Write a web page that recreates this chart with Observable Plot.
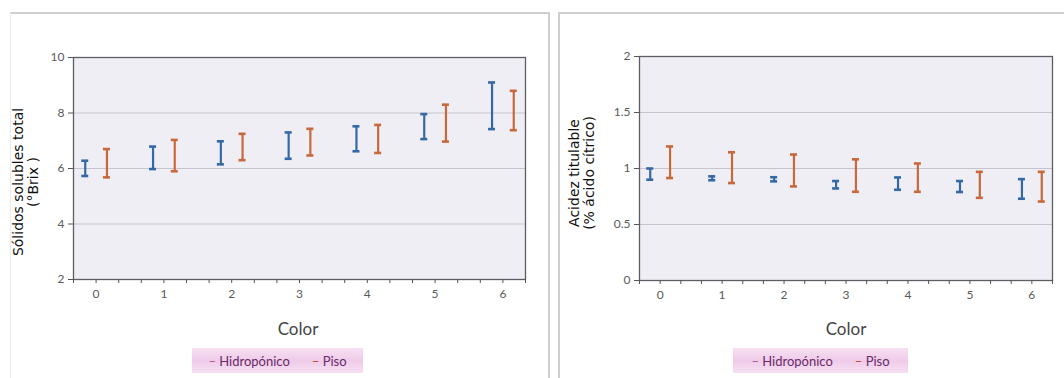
<!DOCTYPE html>
<html>
<head>
<meta charset="utf-8">
<script src="https://cdn.jsdelivr.net/npm/d3@7"></script>
<script src="https://cdn.jsdelivr.net/npm/@observablehq/plot@0.6"></script>
<style>
  html, body { margin: 0; padding: 0; background: #fff; }
  #page { position: relative; width: 1064px; height: 378px; overflow: hidden; background: #fff; }
  .panel { position: absolute; box-sizing: border-box; }
  .chart { position: absolute; top: 0; }
  .ytitle {
    position: absolute; transform: translate(-50%, -50%) rotate(-90deg);
    font-family: "DejaVu Sans", sans-serif; font-size: 14px; line-height: 15px;
    color: #111; text-align: center; white-space: nowrap;
  }
  .xtitle {
    position: absolute; transform: translate(-50%, -50%);
    font-family: Lato, sans-serif; font-size: 17px; color: #444; white-space: nowrap;
  }
  .legend {
    position: absolute; height: 25px; box-sizing: border-box;
    background: linear-gradient(#f6e0f2, #efcbe9 50%, #f6e0f2);
    display: flex; align-items: center; justify-content: center; gap: 22px;
    font-family: Lato, sans-serif; font-size: 13px; color: #6a2a68; white-space: nowrap;
  }
  .legend .d1 { color: #b5539f; }
  .legend .d2 { color: #c8452e; }
</style>
</head>
<body>
<div id="page">
  <div class="panel" style="left:10px; top:12px; width:540px; height:380px; border-top:2px solid #d0d0d0; border-right:2px solid #cfcfcf; border-left:1px solid #ececec;"></div>
  <div class="panel" style="left:558px; top:12px; width:520px; height:380px; border-top:2px solid #d0d0d0; border-left:2px solid #cfcfcf;"></div>

  <div id="left" class="chart" style="left:0px;"></div>
  <div id="right" class="chart" style="left:548px;"></div>

  <div class="ytitle" style="left:26px; top:182px;">Sólidos solubles total<br>(°Brix )</div>
  <div class="ytitle" style="left:582px; top:173px;">Acidez titulable<br>(% ácido cítrico)</div>

  <div class="xtitle" style="left:298px; top:328px;">Color</div>
  <div class="xtitle" style="left:846px; top:328px;">Color</div>

  <div class="legend" style="left:192px; top:348px; width:171px;"><span><span class="d1">–</span> Hidropónico</span><span><span class="d2">–</span> Piso</span></div>
  <div class="legend" style="left:733px; top:348px; width:175px;"><span><span class="d1">–</span> Hidropónico</span><span><span class="d2">–</span> Piso</span></div>
</div>

<script>
// Color index of the fruit (0–6) on the x axis
const colorCodes = [0, 1, 2, 3, 4, 5, 6];
const seriesNames = ["Hidropónico", "Piso"];
const seriesColors = ["#3468a6", "#c8683b"];

// Total soluble solids (°Brix): low and high ends of each range
const brixHidroLow  = [5.73, 5.98, 6.15, 6.35, 6.62, 7.06, 7.42];
const brixHidroHigh = [6.28, 6.79, 6.98, 7.30, 7.52, 7.96, 9.10];
const brixPisoLow   = [5.68, 5.90, 6.30, 6.47, 6.56, 6.97, 7.38];
const brixPisoHigh  = [6.70, 7.03, 7.25, 7.43, 7.57, 8.30, 8.80];

// Titratable acidity (% citric acid): low and high ends of each range
const acidHidroLow  = [0.90, 0.895, 0.885, 0.822, 0.81, 0.79, 0.73];
const acidHidroHigh = [1.00, 0.930, 0.922, 0.888, 0.92, 0.888, 0.905];
const acidPisoLow   = [0.915, 0.870, 0.840, 0.792, 0.792, 0.738, 0.705];
const acidPisoHigh  = [1.197, 1.145, 1.125, 1.082, 1.045, 0.970, 0.970];

// Y axis ticks
const brixTicks = [2, 4, 6, 8, 10];
const acidTicks = [0, 0.5, 1, 1.5, 2];

const xDomain = [-1 / 3, 19 / 3];
const minorTicks = d3.range(-1, 20).map(k => k / 3);
const seriesOffset = 0.16;

function rows(low, high, offset) {
  return colorCodes.map((c, i) => ({ color: c, pos: c + offset, low: low[i], high: high[i] }));
}

function errorChart({ series, yDomain, yTicks, width, height, marginLeft, marginRight, marginTop, marginBottom }) {
  const plotWidth = width - marginLeft - marginRight;
  const capHalf = 3.5 * (xDomain[1] - xDomain[0]) / plotWidth;
  const grid = yTicks.slice(1, -1);
  const barMarks = series.flatMap((data, s) => [
    Plot.ruleX(data, { x: "pos", y1: "low", y2: "high", stroke: seriesColors[s], strokeWidth: 2.2 }),
    Plot.ruleY(data, { y: "high", x1: d => d.pos - capHalf, x2: d => d.pos + capHalf, stroke: seriesColors[s], strokeWidth: 2.6 }),
    Plot.ruleY(data, { y: "low", x1: d => d.pos - capHalf, x2: d => d.pos + capHalf, stroke: seriesColors[s], strokeWidth: 2.6 })
  ]);
  return Plot.plot({
    width, height, marginLeft, marginRight, marginTop, marginBottom,
    x: { domain: xDomain },
    y: { domain: yDomain },
    style: { background: "transparent", fontFamily: "Lato, sans-serif", fontSize: "12px", color: "#5a5a5a", overflow: "visible" },
    marks: [
      Plot.frame({ fill: "#efeef5" }),
      Plot.ruleY(grid, { stroke: "#c6c5cf", strokeWidth: 1 }),
      Plot.frame({ stroke: "#5d5d66", strokeWidth: 1.3 }),
      Plot.axisY({ ticks: yTicks, tickSize: 5, tickPadding: 4, tickFormat: d => String(d), label: null, stroke: "#555" }),
      Plot.axisX({ ticks: minorTicks, tickSize: 4, tickFormat: () => "", label: null, stroke: "#555" }),
      Plot.axisX({ ticks: colorCodes, tickSize: 0, tickPadding: 10, tickFormat: d => String(d), label: null }),
      ...barMarks
    ]
  });
}

document.getElementById("left").append(errorChart({
  series: [rows(brixHidroLow, brixHidroHigh, -seriesOffset), rows(brixPisoLow, brixPisoHigh, seriesOffset)],
  yDomain: [2, 10], yTicks: brixTicks,
  width: 548, height: 310, marginLeft: 73, marginRight: 23, marginTop: 57, marginBottom: 31
}));

document.getElementById("right").append(errorChart({
  series: [rows(acidHidroLow, acidHidroHigh, -seriesOffset), rows(acidPisoLow, acidPisoHigh, seriesOffset)],
  yDomain: [0, 2], yTicks: acidTicks,
  width: 516, height: 310, marginLeft: 91, marginRight: 12, marginTop: 56, marginBottom: 30
}));
</script>
</body>
</html>
